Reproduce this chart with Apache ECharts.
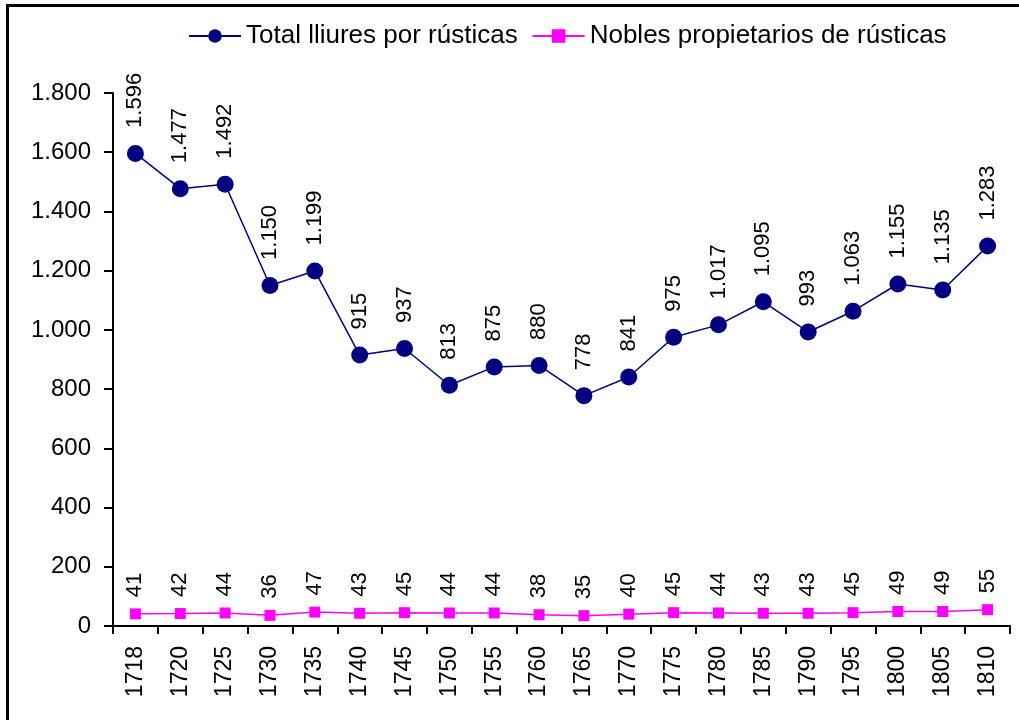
<!DOCTYPE html>
<html>
<head>
<meta charset="utf-8">
<script src="https://cdn.jsdelivr.net/npm/echarts@6/dist/echarts.min.js"></script>
<style>html,body{margin:0;padding:0;background:#fff;}#c{width:1019px;height:720px;}</style>
</head>
<body>
<div id="c"></div>
<script>
var categories = ['1718','1720','1725','1730','1735','1740','1745','1750','1755','1760','1765','1770','1775','1780','1785','1790','1795','1800','1805','1810'];
var totalLliures = [1596,1477,1492,1150,1199,915,937,813,875,880,778,841,975,1017,1095,993,1063,1155,1135,1283];
var nobles = [41,42,44,36,47,43,45,44,44,38,35,40,45,44,43,43,45,49,49,55];
var seriesNames = ['Total lliures por rústicas','Nobles propietarios de rústicas'];

function fmt(v){
  var s = String(Math.round(v));
  return s.replace(/\B(?=(\d{3})+(?!\d))/g, '.');
}
var font = 'Liberation Sans, Arial, sans-serif';
var chart = echarts.init(document.getElementById('c'));
function labelCfg(dist){
  return {
    show: true, position: 'top', rotate: 90, align: 'left', verticalAlign: 'middle',
    distance: dist, fontFamily: font, fontSize: 22, color: '#000',
    formatter: function(p){ return fmt(p.value); }
  };
}
chart.setOption({
  animation: false,
  backgroundColor: '#fff',
  graphic: [{type:'rect', shape:{x:7.5,y:5.5,width:1040,height:760}, style:{fill:'none', stroke:'#000', lineWidth:3}}],
  legend: {
    top: 18, left: 183, itemWidth: 52, itemHeight: 17, itemGap: 14,
    textStyle: {fontFamily: font, fontSize: 26, color: '#000'},
    data: seriesNames
  },
  grid: {left: 113, right: 9, top: 93, bottom: 94, containLabel: false},
  xAxis: {
    type: 'category', data: categories, boundaryGap: true,
    axisLine: {lineStyle: {color: '#000', width: 2}},
    axisTick: {show: true, length: 8, inside: false, lineStyle:{color:'#000', width:2}},
    axisLabel: {rotate: 90, fontFamily: font, fontSize: 23, color: '#000', margin: 20, interval: 0}
  },
  yAxis: {
    type: 'value', min: 0, max: 1800, interval: 200,
    splitLine: {show: false},
    axisLine: {show: true, lineStyle: {color: '#000', width: 2}},
    axisTick: {show: true, length: 9, lineStyle:{color:'#000', width:2}},
    axisLabel: {fontFamily: font, fontSize: 24, color: '#000', margin: 22, formatter: fmt}
  },
  series: [
    {
      name: seriesNames[0], type: 'line', data: totalLliures,
      symbol: 'circle', symbolSize: 17,
      itemStyle: {color: '#000080'}, lineStyle: {color: '#000080', width: 1.5},
      label: labelCfg(17)
    },
    {
      name: seriesNames[1], type: 'line', data: nobles,
      symbol: 'rect', symbolSize: 11,
      itemStyle: {color: '#FF00FF'}, lineStyle: {color: '#FF00FF', width: 1.5},
      label: labelCfg(11)
    }
  ]
});
</script>
</body>
</html>
